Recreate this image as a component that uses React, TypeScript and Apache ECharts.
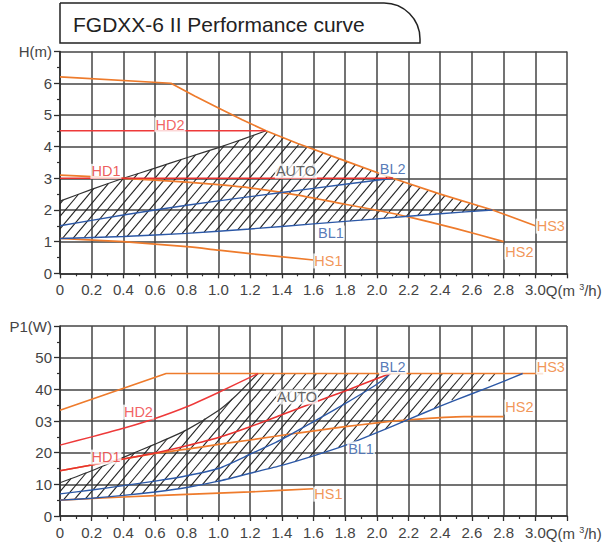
import React, { useEffect, useRef } from 'react';
import * as echarts from 'echarts';

// ---------- Data ----------
const Q_LABEL_TITLE = 'FGDXX-6 II Performance curve';

// Top chart: head H (m) vs flow Q (m³/h)
const HS3_H = [[0, 6.2], [0.7, 6.0], [0.85, 5.6], [1.0, 5.22], [1.15, 4.85], [1.3, 4.5], [1.5, 4.1], [1.8, 3.55], [2.1, 3.0], [2.4, 2.5], [2.73, 2.0], [3.0, 1.5]];
const HS2_H = [[0, 3.1], [0.2, 3.05], [0.4, 3.0], [0.8, 2.88], [1.0, 2.8], [1.2, 2.7], [1.5, 2.47], [1.8, 2.18], [2.0, 1.99], [2.2, 1.78], [2.5, 1.41], [2.8, 1.0]];
const HS1_H = [[0, 1.1], [0.4, 1.0], [0.8, 0.84], [1.0, 0.73], [1.2, 0.62], [1.6, 0.42]];
const HD2_H = [[0, 4.5], [1.3, 4.5]];
const HD1_H = [[0, 3.0], [2.1, 3.0]];
const BL2_H = [[0, 1.5], [0.4, 1.84], [0.8, 2.15], [1.2, 2.42], [1.6, 2.68], [2.0, 2.94], [2.1, 3.0]];
const BL1_H = [[0, 1.1], [0.4, 1.16], [0.8, 1.26], [1.2, 1.4], [1.6, 1.56], [2.0, 1.72], [2.4, 1.88], [2.73, 2.0]];
const AUTO_UPPER_H = [[0, 2.28], [0.2, 2.65], [0.4, 3.0], [0.6, 3.32], [0.8, 3.65], [1.0, 3.97], [1.15, 4.23], [1.3, 4.5]];

// Bottom chart: power P1 (W) vs flow Q (m³/h)
const HS3_P = [[0, 33.4], [0.67, 45], [3.05, 45]];
const HS2_P = [[0, 14.3], [0.2, 16.1], [0.4, 18], [0.6, 19.8], [0.8, 21.1], [1.0, 22.6], [1.2, 24], [1.5, 26.2], [1.8, 28.2], [2.0, 29.4], [2.2, 30.4], [2.55, 31.4], [2.8, 31.4]];
const HS1_P = [[0, 5], [0.4, 6], [0.8, 6.8], [1.2, 7.6], [1.6, 8.6]];
const HD2_P = [[0, 22.4], [0.2, 25], [0.4, 27.7], [0.6, 30.8], [0.8, 34.5], [1.0, 39], [1.25, 45]];
const HD1_P = [[0, 14.3], [0.2, 16.1], [0.4, 18], [0.6, 19.9], [0.8, 22.2], [1.0, 24.8], [1.2, 28.2], [1.4, 32], [1.6, 35.8], [1.8, 39.5], [2.085, 45]];
const BL2_P = [[0, 7], [0.2, 8.2], [0.4, 9.6], [0.6, 11], [0.8, 12.7], [1.0, 15], [1.2, 19.5], [1.4, 24.2], [1.6, 29.8], [1.8, 35.5], [2.0, 41.6], [2.085, 45]];
const BL1_P = [[0, 5], [0.2, 5.6], [0.4, 6.5], [0.6, 7.6], [0.8, 9], [1.0, 11], [1.2, 13.5], [1.4, 16], [1.6, 19], [1.8, 22.3], [2.0, 26.3], [2.2, 30.5], [2.4, 34.7], [2.6, 38.6], [2.8, 42.5], [2.92, 45]];
const AUTO_UPPER_P = [[0, 10.5], [0.2, 14.3], [0.4, 18.5], [0.6, 22.7], [0.8, 27.2], [1.0, 33.3], [1.1, 37.5], [1.25, 45]];
const AUTO_CORNER_P = [[2.8, 45]];

// Curve labels: [text, Q, value]
const LABELS_H = [['HD2', 0.694, 4.69], ['HD1', 0.29, 3.22], ['AUTO', 1.489, 3.23], ['BL2', 2.1, 3.29], ['BL1', 1.71, 1.27], ['HS3', 3.098, 1.49], ['HS2', 2.9, 0.67], ['HS1', 1.694, 0.39]];
const LABELS_P = [['HD2', 0.495, 32.8], ['HD1', 0.29, 18.6], ['AUTO', 1.496, 37.6], ['BL2', 2.1, 47], ['BL1', 1.9, 21.2], ['HS3', 3.098, 47], ['HS2', 2.9, 34.4], ['HS1', 1.694, 6.9]];

// ---------- Styling ----------
const FONT = '"Liberation Sans", Arial, sans-serif';
const ORANGE = '#EE7B2C';
const RED = '#E8312F';
const RED2 = '#EE3A3A';
const BLUE = '#2C58A6';
const DARK = '#2e2e2e';
const GRID_COLOR = '#444444';
const LABEL_COLORS: Record<string, string> = { HD1: RED, HD2: RED2, AUTO: '#3a3a3a', BL1: BLUE, BL2: BLUE, HS1: ORANGE, HS2: ORANGE, HS3: ORANGE };

const G_LEFT = 60;
const G_WIDTH = 507;
const Q_MAX = 3.2;
const TOP_GRID = { top: 51.6, height: 221.7 };
const BOT_GRID = { top: 326, height: 190 };

function hatchSegments(poly: number[][], spacing: number, angleDeg: number) {
  const a = (angleDeg * Math.PI) / 180;
  const nx = Math.sin(a);
  const ny = Math.cos(a);
  const cs = poly.map((p) => p[0] * nx + p[1] * ny);
  const cmin = Math.min(...cs);
  const cmax = Math.max(...cs);
  const step = spacing * Math.sin(a);
  const segs: number[][][] = [];
  for (let c = Math.ceil(cmin / step) * step; c <= cmax; c += step) {
    const pts: number[][] = [];
    for (let i = 0; i < poly.length; i++) {
      const j = (i + 1) % poly.length;
      const f1 = cs[i] - c;
      const f2 = cs[j] - c;
      if (f1 < 0 !== f2 < 0) {
        const t = f1 / (f1 - f2);
        pts.push([poly[i][0] + t * (poly[j][0] - poly[i][0]), poly[i][1] + t * (poly[j][1] - poly[i][1])]);
      }
    }
    pts.sort((p, q) => p[0] - q[0]);
    for (let k = 0; k + 1 < pts.length; k += 2) segs.push([pts[k], pts[k + 1]]);
  }
  return segs;
}

function hatchSeries(poly: number[][], idx: number) {
  return {
    type: 'custom',
    xAxisIndex: idx,
    yAxisIndex: idx,
    data: [[0, 0]],
    silent: true,
    z: 1,
    renderItem: (_params: any, api: any) => {
      const px = poly.map((p) => api.coord(p));
      const segs = hatchSegments(px, 10.5, 50);
      return {
        type: 'group',
        children: segs.map((s) => ({
          type: 'line',
          shape: { x1: s[0][0], y1: s[0][1], x2: s[1][0], y2: s[1][1] },
          style: { stroke: '#222', lineWidth: 1.1 },
        })),
      };
    },
  };
}

function lineSeries(data: number[][], color: string, idx: number, width: number, z: number, smooth: boolean | number = false) {
  return {
    type: 'line',
    xAxisIndex: idx,
    yAxisIndex: idx,
    data,
    symbol: 'none',
    showSymbol: false,
    smooth,
    silent: true,
    lineStyle: { color, width },
    itemStyle: { color },
    z,
  };
}

function labelSeries(labels: any[], idx: number) {
  return {
    type: 'scatter',
    xAxisIndex: idx,
    yAxisIndex: idx,
    symbolSize: 1,
    silent: true,
    z: 10,
    itemStyle: { color: 'rgba(0,0,0,0)' },
    data: labels.map((l) => ({
      name: l[0],
      value: [l[1], l[2]],
      label: {
        show: true,
        position: 'inside',
        formatter: l[0],
        color: LABEL_COLORS[l[0]],
        fontSize: 14.5,
        fontFamily: FONT,
        backgroundColor: '#fff',
        padding: [0, 1],
      },
    })),
  };
}

function xAxis(idx: number) {
  return {
    type: 'value',
    gridIndex: idx,
    min: 0,
    max: Q_MAX,
    interval: 0.2,
    axisLine: { show: true, lineStyle: { color: DARK, width: 1.6 } },
    axisTick: { show: true, length: 5, lineStyle: { color: DARK, width: 1.3 } },
    minorTick: { show: true, splitNumber: 2, length: 3, lineStyle: { color: DARK, width: 1.2 } },
    splitLine: { show: true, lineStyle: { color: GRID_COLOR, width: 1.5 } },
    axisLabel: {
      margin: 9,
      fontSize: 15,
      color: '#444',
      fontFamily: FONT,
      showMinLabel: true,
      showMaxLabel: true,
      formatter: (v: number) => (Math.abs(v) < 1e-9 ? '0' : v > 3.05 ? '' : v.toFixed(1)),
    },
  };
}

function yAxis(idx: number, max: number, interval: number, fmt: (v: number) => string) {
  return {
    type: 'value',
    gridIndex: idx,
    min: 0,
    max,
    interval,
    axisLine: { show: true, lineStyle: { color: DARK, width: 1.6 } },
    axisTick: { show: true, length: 6, lineStyle: { color: DARK, width: 1.3 } },
    minorTick: { show: true, splitNumber: 2, length: 3, lineStyle: { color: DARK, width: 1.2 } },
    splitLine: { show: true, lineStyle: { color: GRID_COLOR, width: 1.5 } },
    axisLabel: { margin: 8, fontSize: 15, color: '#444', fontFamily: FONT, showMinLabel: true, showMaxLabel: true, formatter: fmt },
  };
}

export default function App() {
  const ref = useRef<HTMLDivElement>(null);

  useEffect(() => {
    if (!ref.current) return;
    const chart = echarts.init(ref.current, null, { renderer: 'svg' });

    const polyTop = [
      ...AUTO_UPPER_H,
      ...HS3_H.filter((p) => p[0] > 1.3 && p[0] <= 2.73),
      ...BL1_H.slice().reverse(),
    ];
    const polyBot = [
      ...AUTO_UPPER_P,
      ...AUTO_CORNER_P,
      ...BL1_P.filter((p) => p[0] <= 2.4).reverse(),
    ];

    const pxPerQ = G_WIDTH / Q_MAX;
    const unitX = G_LEFT + 3.0 * pxPerQ + 10.5;
    const unitText = (y: number) => ({
      type: 'text',
      x: unitX,
      y,
      silent: true,
      style: {
        text: '{u|Q(m }{s|3}{u|/h)}',
        verticalAlign: 'middle',
        align: 'left',
        rich: {
          u: { fontSize: 15, fontFamily: FONT, fill: '#444' },
          s: { fontSize: 9, fontFamily: FONT, fill: '#444', verticalAlign: 'top' },
        },
      },
    });

    chart.setOption({
      animation: false,
      backgroundColor: '#fff',
      textStyle: { fontFamily: FONT },
      grid: [
        { left: G_LEFT, width: G_WIDTH, top: TOP_GRID.top, height: TOP_GRID.height, containLabel: false, outerBoundsMode: 'none' },
        { left: G_LEFT, width: G_WIDTH, top: BOT_GRID.top, height: BOT_GRID.height, containLabel: false, outerBoundsMode: 'none' },
      ],
      xAxis: [xAxis(0), xAxis(1)],
      yAxis: [
        yAxis(0, 7, 1, (v: number) => (v === 7 ? 'H(m)' : String(v))),
        yAxis(1, 60, 10, (v: number) => (v === 60 ? 'P1(W)' : v === 30 ? '03' : String(v))),
      ],
      graphic: [
        {
          type: 'rect',
          shape: { x: 60, y: 3, width: 360, height: 40, r: [0, 36, 0, 0] },
          style: { fill: '#fff', stroke: '#222', lineWidth: 1.5 },
          silent: true,
        },
        {
          type: 'text',
          x: 73,
          y: 24,
          silent: true,
          style: { text: Q_LABEL_TITLE, fontSize: 21, fontFamily: FONT, fill: '#222', verticalAlign: 'middle', align: 'left' },
        },
        unitText(TOP_GRID.top + TOP_GRID.height + 17),
        unitText(BOT_GRID.top + BOT_GRID.height + 17),
      ],
      series: [
        // Top chart
        hatchSeries(polyTop, 0),
        lineSeries(AUTO_UPPER_H, '#333', 0, 1.2, 2, 0.2),
        lineSeries(HS3_H, ORANGE, 0, 1.7, 3),
        lineSeries(HS2_H, ORANGE, 0, 1.7, 3, 0.2),
        lineSeries(HS1_H, ORANGE, 0, 1.7, 3, 0.2),
        lineSeries(BL2_H, BLUE, 0, 1.4, 4, 0.2),
        lineSeries(BL1_H, BLUE, 0, 1.4, 4, 0.2),
        lineSeries(HD2_H, RED2, 0, 1.4, 5),
        lineSeries(HD1_H, RED, 0, 1.6, 5),
        labelSeries(LABELS_H, 0),
        // Bottom chart
        hatchSeries(polyBot, 1),
        lineSeries(AUTO_UPPER_P, '#333', 1, 1.2, 2, 0.2),
        lineSeries(HS3_P, ORANGE, 1, 1.7, 3),
        lineSeries(HS2_P, ORANGE, 1, 1.7, 3, 0.2),
        lineSeries(HS1_P, ORANGE, 1, 1.7, 3, 0.2),
        lineSeries(BL2_P, BLUE, 1, 1.4, 4, 0.2),
        lineSeries(BL1_P, BLUE, 1, 1.4, 4, 0.2),
        lineSeries(HD2_P, RED2, 1, 1.4, 5, 0.2),
        lineSeries(HD1_P, RED, 1, 1.6, 5, 0.2),
        labelSeries(LABELS_P, 1),
      ],
    });

    return () => chart.dispose();
  }, []);

  return (
    <div
      ref={ref}
      style={{ position: 'fixed', left: 0, top: 0, width: 606, height: 546, background: '#fff' }}
    />
  );
}
